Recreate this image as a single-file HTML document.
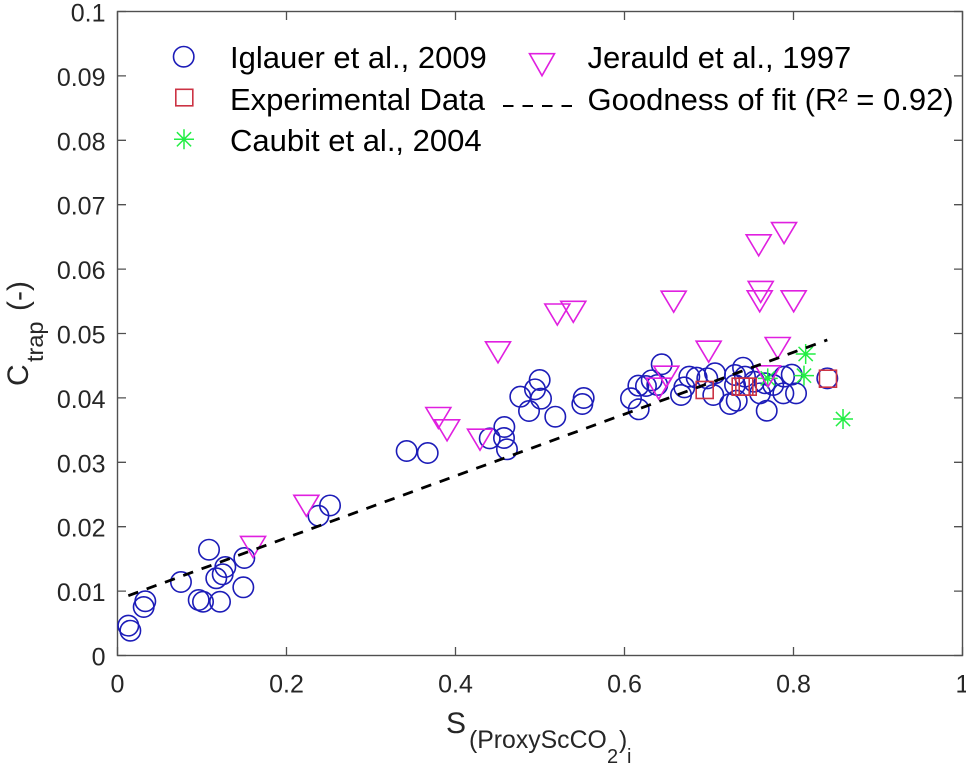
<!DOCTYPE html>
<html lang="en">
<head>
<meta charset="utf-8">
<title>Ctrap vs S chart</title>
<style>
html,body{margin:0;padding:0;background:#fff;width:966px;height:768px;overflow:hidden}
svg{display:block}
text{font-family:"Liberation Sans",Arial,sans-serif}
</style>
</head>
<body>
<svg id="chart" width="966" height="768" viewBox="0 0 966 768" xmlns="http://www.w3.org/2000/svg">
  <rect x="117.5" y="11.5" width="845" height="644" fill="#fff" stroke="#505050" stroke-width="1.4"/>
  <g id="ticks"></g>
  <g id="marks"></g>
  <text fill="#262626"><tspan x="446" y="733" font-size="30">S</tspan><tspan x="469" y="748" font-size="24.8">(ProxyScCO</tspan><tspan x="607" y="763" font-size="20">2</tspan><tspan x="619" y="748" font-size="24.8">)</tspan><tspan x="627" y="763" font-size="20">i</tspan></text>
  <text transform="translate(28,386) rotate(-90)" fill="#262626"><tspan x="0" y="0" font-size="30">C</tspan><tspan x="24" y="15" font-size="23.5">trap</tspan><tspan x="75" y="0" font-size="30">(-)</tspan></text>
  <g id="legend" font-size="31" fill="#000">
    <text x="230" y="68">Iglauer et al., 2009</text>
    <text x="230" y="110">Experimental Data</text>
    <text x="230" y="151">Caubit et al., 2004</text>
    <text x="587.5" y="68">Jerauld et al., 1997</text>
    <text x="587.5" y="110">Goodness of fit (R² = 0.92)</text>
    <circle cx="183.7" cy="56.7" r="10.2" fill="none" stroke="#1c1cb8" stroke-width="1.6"/>
    <rect x="175.8" y="89.3" width="17" height="16.5" fill="none" stroke="#cc3344" stroke-width="1.6"/>
    <path d="M184 129.3V149.3M174 139.3H194M176.9 132.2L191.1 146.4M176.9 146.4L191.1 132.2" fill="none" stroke="#22ee44" stroke-width="1.5"/>
    <path d="M529.5 53.7H554.5L542 75.7Z" fill="none" stroke="#e020e0" stroke-width="1.6"/>
    <line x1="503" y1="106" x2="573" y2="106" stroke="#000" stroke-width="2" stroke-dasharray="10.5 9"/>
  </g>
</svg>
<script>
const xTickValues = [0, 0.2, 0.4, 0.6, 0.8, 1];
const xTickLabels = ["0", "0.2", "0.4", "0.6", "0.8", "1"];
const yTickValues = [0, 0.01, 0.02, 0.03, 0.04, 0.05, 0.06, 0.07, 0.08, 0.09, 0.1];
const yTickLabels = ["0", "0.01", "0.02", "0.03", "0.04", "0.05", "0.06", "0.07", "0.08", "0.09", "0.1"];

const iglauerX = [0.0128, 0.0152, 0.0329, 0.031, 0.0751, 0.0961, 0.1012, 0.1213, 0.1083, 0.1169, 0.1245, 0.1276, 0.1489, 0.1501, 0.2378, 0.2515, 0.3422, 0.3671, 0.4405, 0.4578, 0.4574, 0.4609, 0.4767, 0.487, 0.4941, 0.4996, 0.5012, 0.5181, 0.5517, 0.5501, 0.644, 0.6164, 0.6322, 0.6254, 0.6077, 0.6168, 0.6388, 0.6669, 0.6708, 0.6767, 0.6854, 0.698, 0.7071, 0.7051, 0.7249, 0.7328, 0.7308, 0.7403, 0.7426, 0.7308, 0.7533, 0.7604, 0.7683, 0.7663, 0.776, 0.788, 0.7888, 0.7979, 0.803, 0.84];
const iglauerY = [0.00463, 0.00385, 0.00842, 0.00753, 0.01141, 0.00862, 0.00835, 0.00835, 0.01643, 0.01199, 0.01261, 0.01374, 0.01059, 0.01514, 0.0217, 0.0233, 0.03175, 0.03144, 0.03372, 0.03548, 0.03377, 0.03202, 0.04019, 0.03797, 0.04133, 0.04278, 0.03988, 0.03708, 0.03998, 0.03905, 0.04522, 0.0419, 0.04273, 0.04185, 0.03994, 0.03823, 0.042, 0.04045, 0.04164, 0.0433, 0.04314, 0.04304, 0.04382, 0.04045, 0.03905, 0.03957, 0.04356, 0.04469, 0.0433, 0.042, 0.04252, 0.04071, 0.03801, 0.04227, 0.042, 0.04071, 0.0433, 0.04361, 0.04071, 0.04304];

const experimentalX = [0.6949, 0.7375, 0.7418, 0.7458, 0.8408];
const experimentalY = [0.04123, 0.04174, 0.04174, 0.04174, 0.04298];

const caubitX = [0.8144, 0.8124, 0.8586, 0.7695];
const caubitY = [0.04682, 0.04345, 0.03672, 0.04304];

const jerauldX = [0.1604, 0.2235, 0.3797, 0.39, 0.429, 0.4503, 0.5205, 0.5394, 0.6405, 0.6495, 0.6582, 0.6996, 0.7588, 0.76, 0.7612, 0.7698, 0.7813, 0.7888, 0.8002];
const jerauldY = [0.01685, 0.02325, 0.03688, 0.03497, 0.03351, 0.04708, 0.05295, 0.05337, 0.04143, 0.0433, 0.05494, 0.04718, 0.0637, 0.055, 0.05645, 0.04335, 0.04775, 0.0656, 0.055];

const fitX = [0.0128, 0.84];
const fitY = [0.00929, 0.049];

const NS = "http://www.w3.org/2000/svg";
function xScale(v) { return 117.5 + 845 * v; }
function yScale(v) { return 655.5 - 6440 * v; }
function make(tag, attrs, parent) {
  const el = document.createElementNS(NS, tag);
  for (const k in attrs) el.setAttribute(k, attrs[k]);
  parent.appendChild(el);
  return el;
}
const ticksGroup = document.getElementById("ticks");
const marksGroup = document.getElementById("marks");
const axisStyle = { stroke: "#505050", "stroke-width": 1.3 };

xTickValues.forEach(function (v, i) {
  const px = xScale(v);
  const p = "M" + px + " 655.5V647M" + px + " 11.5V20";
  const t = make("path", Object.assign({ d: p, fill: "none" }, axisStyle), ticksGroup);
  
  
  const l = make("text", { x: px, y: 692.7, "text-anchor": "middle", "font-size": 25, fill: "#262626" }, ticksGroup);
  
  
  l.textContent = xTickLabels[i];
});
yTickValues.forEach(function (v, i) {
  const py = yScale(v);
  const p = "M117.5 " + py + "H126M962.5 " + py + "H954";
  const t = make("path", Object.assign({ d: p, fill: "none" }, axisStyle), ticksGroup);
  
  
  const l = make("text", { x: 105.5, y: py + 10, "text-anchor": "end", "font-size": 25, fill: "#262626" }, ticksGroup);
  
  
  l.textContent = yTickLabels[i];
});

iglauerX.forEach(function (v, i) {
  const m = make("circle", { cx: xScale(v), cy: yScale(iglauerY[i]), r: 10.2, fill: "none", stroke: "#1c1cb8", "stroke-width": 1.6 }, marksGroup);
  
  
});
experimentalX.forEach(function (v, i) {
  const m = make("rect", { x: xScale(v) - 8.5, y: yScale(experimentalY[i]) - 8.5, width: 17, height: 17, fill: "none", stroke: "#cc3344", "stroke-width": 1.6 }, marksGroup);
  
  
});
caubitX.forEach(function (v, i) {
  const cx = xScale(v), cy = yScale(caubitY[i]);
  const d = "M" + cx + " " + (cy - 10) + "V" + (cy + 10) +
    "M" + (cx - 10) + " " + cy + "H" + (cx + 10) +
    "M" + (cx - 7.1) + " " + (cy - 7.1) + "L" + (cx + 7.1) + " " + (cy + 7.1) +
    "M" + (cx - 7.1) + " " + (cy + 7.1) + "L" + (cx + 7.1) + " " + (cy - 7.1);
  const m = make("path", { d: d, fill: "none", stroke: "#22ee44", "stroke-width": 1.5 }, marksGroup);
  
  
});
jerauldX.forEach(function (v, i) {
  const cx = xScale(v), cy = yScale(jerauldY[i]);
  const d = "M" + (cx - 12.5) + " " + (cy - 10.5) + "H" + (cx + 12.5) + "L" + cx + " " + (cy + 10.5) + "Z";
  const m = make("path", { d: d, fill: "none", stroke: "#e020e0", "stroke-width": 1.6 }, marksGroup);
  
  
});
const fitPath = fitX.map(function (v, i) { return (i ? "L" : "M") + xScale(v) + " " + yScale(fitY[i]); }).join("");
const fitLine = make("path", { d: fitPath, fill: "none", stroke: "#000", "stroke-width": 2.8, "stroke-dasharray": "10.5 9" }, marksGroup);


</script>
</body>
</html>
